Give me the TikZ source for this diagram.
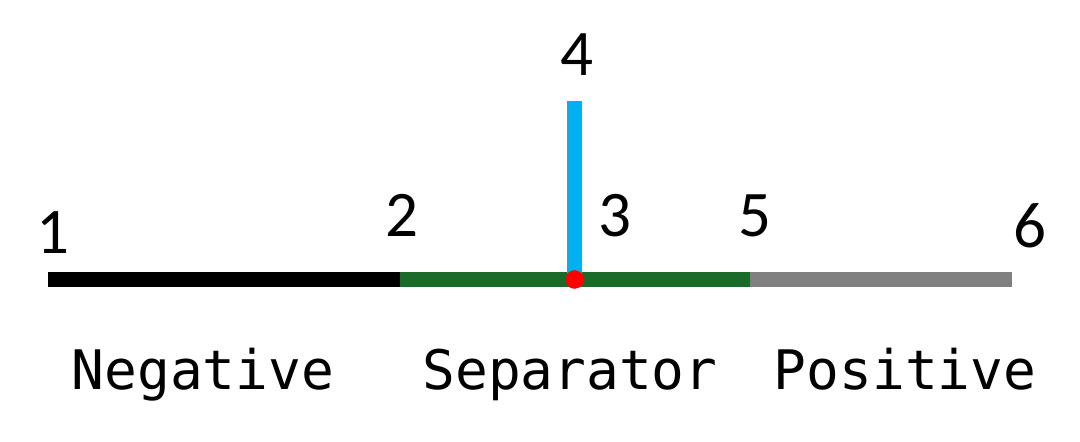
\documentclass[tikz,border=0pt]{standalone}
\usepackage{fontspec}
\setmainfont{Carlito}
\setmonofont{DejaVu Sans Mono}
\usetikzlibrary{positioning}
\definecolor{sepgreen}{RGB}{27,107,40}
\definecolor{posgray}{RGB}{128,128,128}
\definecolor{tabblue}{RGB}{0,176,240}
\tikzset{
  num/.style={inner sep=0pt, font=\fontsize{18.5}{20}\selectfont},
  part/.style={inner sep=0pt, anchor=base, font=\ttfamily\fontsize{15.5}{18}\selectfont},
  layer/.style={line width=4.3pt, line cap=butt}
}
\begin{document}
\begin{tikzpicture}
        \useasboundingbox (0,0) rectangle (10.8,4.42);
        % points along the cell
        \coordinate (p1) at (0.48,1.625);
        \coordinate (p2) at (4.00,1.625);
        \coordinate (p3) at (5.745,1.625);
        \coordinate (p5) at (7.50,1.625);
        \coordinate (p6) at (10.12,1.625);
        \coordinate (p4) at (5.745,3.41);
        % layers
        \draw[layer, black] (p1) -- (p2);
        \draw[layer, sepgreen] (p2) -- (p5);
        \draw[layer, posgray] (p5) -- (p6);
        \draw[layer, tabblue] (p3) -- (p4);
        \fill[red] (p3) circle (0.093);
        % numbers
        \node[num] (n1) at (0.53,2.09) {1};
        \node[num] (n2) at (4.02,2.27) {2};
        \node[num] (n3) at (6.15,2.26) {3};
        \node[num] (n4) at (5.77,3.87) {4};
        \node[num] (n5) at (7.55,2.26) {5};
        \node[num] (n6) at (10.30,2.16) {6};
        % layer names
        \node[part] (neg) at (2.03,0.52) {Negative};
        \node[part] (sep) at (5.70,0.52) {Separator};
        \node[part] (pos) at (9.05,0.52) {Positive};
    \end{tikzpicture}
\end{document}
